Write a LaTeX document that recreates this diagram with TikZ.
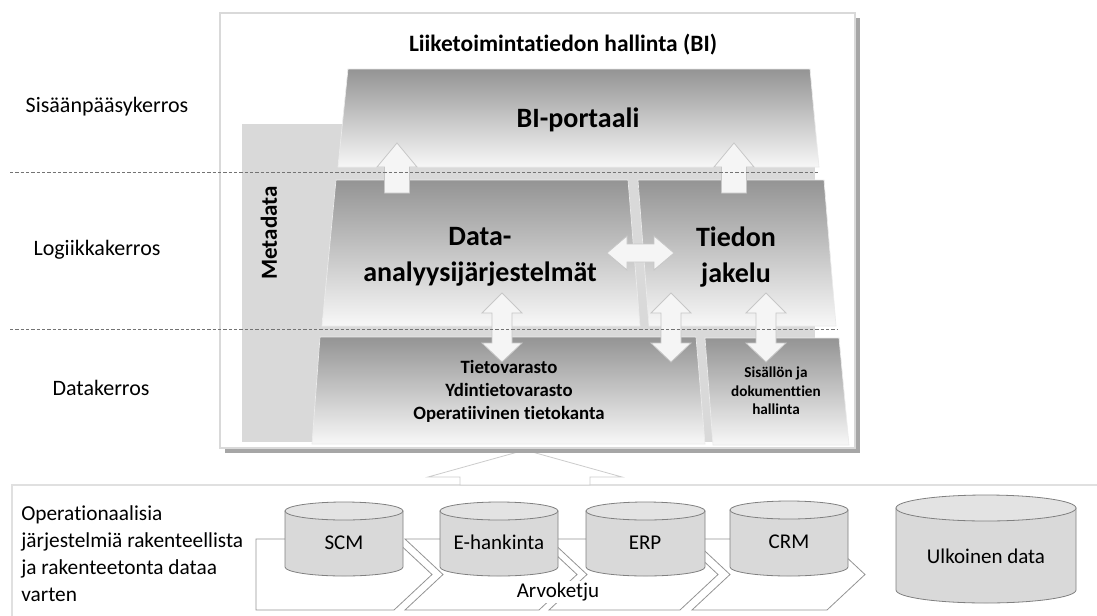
\documentclass[tikz,border=0pt]{standalone}
\usepackage{fontspec}
\setmainfont{Carlito}[Ligatures=NoCommon]
\newcommand{\dbcyl}[5]{%
  \pgfmathsetmacro{\cylcx}{(#1+#2)/2}%
  \pgfmathsetmacro{\cylrx}{(#2-#1)/2*0.75}%
  \pgfmathsetmacro{\cylry}{#5*0.75}%
  \path[cylbody] (#1,-#3-#5) -- (#1,-#4+#5) arc[start angle=180,end angle=360,x radius=\cylrx pt,y radius=\cylry pt] -- (#2,-#3-#5) -- cycle;
  \path[cyltop] (\cylcx,-#3-#5) ellipse[x radius=\cylrx pt,y radius=\cylry pt];
}
\begin{document}
\begin{tikzpicture}[x=0.75pt,y=0.75pt,
  trap/.style={draw=black!8, line width=0.5pt, top color=black!42, bottom color=black!3},
  blockarrow/.style={fill=black!4, draw=black!22, line width=0.6pt, line join=miter},
  layerdash/.style={draw=black!55, dash pattern=on 2.6pt off 1.4pt, line width=0.75pt},
  sidelbl/.style={font=\fontsize{16.5}{20.25}\selectfont, inner sep=0pt},
  opslbl/.style={font=\fontsize{16}{20.25}\selectfont, inner sep=0pt, align=left},
  titlelbl/.style={font=\bfseries\fontsize{17.6}{21}\selectfont, inner sep=0pt},
  biglbl/.style={font=\bfseries\fontsize{21}{27}\selectfont, align=center, inner sep=0pt},
  midlbl/.style={font=\bfseries\fontsize{14.1}{17.3}\selectfont, align=center, inner sep=0pt},
  smalllbl/.style={font=\bfseries\fontsize{11.4}{14}\selectfont, align=center, inner sep=0pt},
  cyllbl/.style={font=\fontsize{15.75}{19}\selectfont, inner sep=0pt},
  cylbody/.style={fill=black!15, draw=black!50, line width=0.6pt},
  cyltop/.style={fill=black!11, draw=black!50, line width=0.6pt},
  chev/.style={fill=white, draw=black!42, line width=0.6pt, line join=miter},
]
\useasboundingbox (0,0) rectangle (1097,-615);
\fill[white] (0,0) rectangle (1097,-615);

% lower frame
\draw[draw=black!12, line width=1pt, fill=white] (12,-485) rectangle (1105,-625);
% big hollow arrow
\draw[fill=white, draw=black!20, line width=0.6pt] (525,-450) -- (622,-477) -- (590,-477) -- (590,-485) -- (460,-485) -- (460,-477) -- (428,-477) -- cycle;

% shadow and main frame
\fill[black!35] (225,-18) rectangle (860,-453);
\draw[fill=white, draw=black!15, line width=0.8pt] (220,-13) rectangle (855,-448);
% metadata backdrop
\fill[black!15] (242,-124) rectangle (815,-442);

% layers
\path[trap] (348,-69) -- (810,-69) -- (819,-167) -- (338,-167) -- cycle;
\path[trap] (336,-180) -- (628,-180) -- (640,-326) -- (322,-326) -- cycle;
\path[trap] (638,-180) -- (824,-180) -- (836,-326) -- (649,-326) -- cycle;
\path[trap] (320,-337) -- (696,-337) -- (705,-444) -- (312,-444) -- cycle;
\path[trap] (705,-338) -- (839,-338) -- (849,-445) -- (713,-445) -- cycle;

% up arrows
\foreach \c in {397,734}{
  \path[blockarrow] (\c,-143) -- (\c+20,-167) -- (\c+12.5,-167) -- (\c+12.5,-193) -- (\c-12.5,-193) -- (\c-12.5,-167) -- (\c-20,-167) -- cycle;
}
% vertical double arrows
\foreach \c in {502,671,766}{
  \path[blockarrow] (\c,-293) -- (\c+20,-313) -- (\c+10,-313) -- (\c+10,-343) -- (\c+20,-343) -- (\c,-362) -- (\c-20,-343) -- (\c-10,-343) -- (\c-10,-313) -- (\c-20,-313) -- cycle;
}
% horizontal double arrow
\path[blockarrow] (607,-253) -- (627,-236) -- (627,-244) -- (654,-244) -- (654,-236) -- (674,-253) -- (654,-270) -- (654,-262) -- (627,-262) -- (627,-270) -- cycle;

% layer separators
\draw[layerdash] (10,-172) -- (818,-172);
\draw[layerdash] (10,-329) -- (838,-329);

% texts in main frame
\node[titlelbl] (title) at (563,-45) {Liiketoimintatiedon hallinta (BI)};
\node[biglbl] (portal) at (578,-120) {BI-portaali};
\node[biglbl] (analysis) at (480,-257) {Data-\\analyysijärjestelmät};
\node[biglbl] (distrib) at (736,-257) {Tiedon\\jakelu};
\node[midlbl] (store) at (509,-391) {Tietovarasto\\Ydintietovarasto\\Operatiivinen tietokanta};
\node[smalllbl] (content) at (776,-391) {Sisällön ja\\dokumenttien\\hallinta};
\node[rotate=90, font=\bfseries\fontsize{17.25}{20}\selectfont, inner sep=0pt] (meta) at (269,-233) {Metadata};

% layer names
\node[sidelbl] (lay1) at (107,-107) {Sisäänpääsykerros};
\node[sidelbl] (lay2) at (97,-250) {Logiikkakerros};
\node[sidelbl] (lay3) at (101,-388) {Datakerros};

% value chain
\path[chev] (256,-539) -- (394,-539) -- (432,-574.5) -- (394,-610) -- (256,-610) -- cycle;
\path[chev] (405,-539) -- (539,-539) -- (577,-574.5) -- (539,-610) -- (405,-610) -- (443,-574.5) -- cycle;
\path[chev] (549,-539) -- (680,-539) -- (718,-574.5) -- (680,-610) -- (549,-610) -- (587,-574.5) -- cycle;
\path[chev] (692,-539) -- (827,-539) -- (865,-574.5) -- (827,-610) -- (692,-610) -- (730,-574.5) -- cycle;
\node[cyllbl, fill=white, inner sep=1.5pt] (chain) at (558,-592) {Arvoketju};

% databases
\dbcyl{285}{403}{502}{576}{9}
\dbcyl{440}{558}{502}{576}{9}
\dbcyl{586}{705}{502}{576}{9}
\dbcyl{730}{848}{501}{576}{9}
\dbcyl{896}{1076}{495}{603}{13}
\node[cyllbl] (scm) at (344,-543) {SCM};
\node[cyllbl] (eh) at (499,-542) {E-hankinta};
\node[cyllbl] (erp) at (645,-543) {ERP};
\node[cyllbl] (crm) at (789,-542) {CRM};
\node[cyllbl] (ext) at (986,-556) {Ulkoinen data};

\node[opslbl, anchor=west] (ops) at (21,-554) {Operationaalisia\\järjestelmiä rakenteellista\\ja rakenteetonta dataa\\varten};
\end{tikzpicture}
\end{document}
